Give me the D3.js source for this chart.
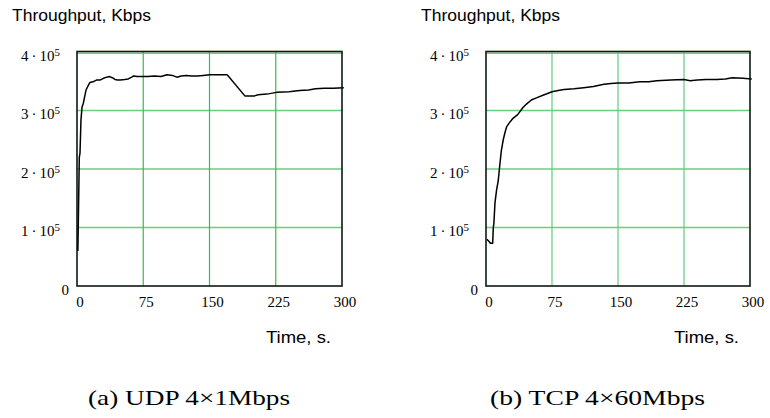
<!DOCTYPE html>
<html>
<head>
<meta charset="utf-8">
<script src="https://cdn.jsdelivr.net/npm/d3@7"></script>
<style>
  body { margin: 0; background: #fff; }
  svg { display: block; }
</style>
</head>
<body>
<script>
// Values
var xTicks = [0, 75, 150, 225, 300];
var yTicks = [0, 100000, 200000, 300000, 400000];

// (a) UDP 4x1Mbps
var udpTime = [1, 2.6, 3.4, 4.5, 5.7, 7.1, 10.2, 12.8, 14.7, 18, 22, 26, 30, 33.6, 37, 40, 43, 46, 49, 54, 58, 62, 64, 68, 73, 80, 88, 95, 102, 108, 113, 118, 124, 130, 136, 143, 150, 160, 170, 190, 201, 205, 215, 226, 240, 252, 262, 270, 280, 290, 302];
var udpThroughput = [60000, 220000, 227000, 284000, 306000, 312000, 335000, 343000, 348000, 349000, 352000, 352000, 355000, 357000, 358000, 356000, 353000, 352000, 352000, 353000, 354000, 357000, 359000, 358000, 358000, 358000, 359000, 358000, 361000, 360000, 357000, 359000, 360000, 359000, 359000, 360000, 361000, 361000, 361000, 325000, 325000, 327000, 328000, 331000, 332000, 334000, 335000, 337000, 338000, 338000, 339000];

// (b) TCP 4x60Mbps
var tcpTime = [1, 3.5, 5, 7.6, 8.3, 9, 10.2, 12, 13.9, 15.9, 17.5, 19.6, 21.5, 23.4, 27, 31, 36, 42, 46, 51.5, 58, 64.7, 70, 75, 82, 88.6, 100, 111, 122, 134, 142, 150, 162, 175, 185, 194, 210, 225, 232, 240, 250, 262, 272, 280, 292, 302];
var tcpThroughput = [80000, 76000, 73000, 73000, 100000, 108000, 142000, 164000, 180000, 210000, 232000, 250000, 262000, 272000, 280000, 287000, 293000, 305000, 311000, 318000, 322000, 326000, 329000, 332000, 334000, 336000, 337000, 339000, 341000, 345000, 346000, 347000, 347000, 349000, 349000, 351000, 352000, 353000, 351000, 352000, 353000, 353000, 354000, 356000, 355000, 354000];

var captions = ["(a) UDP 4\u00d71Mbps", "(b) TCP 4\u00d760Mbps"];
var yTitle = "Throughput, Kbps";
var xTitle = "Time, s.";

var width = 770;
var height = 418;

var svg = d3.select("body")
  .append("svg")
    .attr("width", width)
    .attr("height", height);

// layout of each panel
var panels = [
  { x0: 77,  x1: 342, time: udpTime, value: udpThroughput, caption: captions[0], capX: 88,  capW: 202, titleX: 12,  vGrid: "#2ec246" },
  { x0: 486, x1: 750, time: tcpTime, value: tcpThroughput, caption: captions[1], capX: 490, capW: 215, titleX: 421, vGrid: "#62cc80" }
];

var plotTop = 52, plotBottom = 286;
var hGrid = "#6acd84";
var frameColor = "#0e1a10";
var serif = "'Liberation Serif', 'Times New Roman', serif";
var sans = "'Liberation Sans', Arial, sans-serif";

panels.forEach(drawPanel);

function drawPanel(p) {
  var xScale = d3.scaleLinear()
                 .domain([xTicks[0], xTicks[xTicks.length - 1]])
                 .range([p.x0, p.x1]);
  var yScale = d3.scaleLinear()
                 .domain([yTicks[0], yTicks[yTicks.length - 1]])
                 .range([plotBottom, plotTop]);

  var g = svg.append("g");

  // horizontal grid (top one sits just under the frame)
  g.selectAll(".hgrid")
    .data(yTicks.filter(d => d > 0))
    .enter()
    .append("line")
      .attr("x1", xScale(0))
      .attr("x2", xScale(300))
      .attr("y1", d => yScale(d) + (d === 400000 ? 1.2 : 0))
      .attr("y2", d => yScale(d) + (d === 400000 ? 1.2 : 0))
      .attr("stroke", hGrid)
      .attr("stroke-width", 1.4);

  // vertical grid
  g.selectAll(".vgrid")
    .data(xTicks.filter(d => d > 0 && d < 300))
    .enter()
    .append("line")
      .attr("x1", d => xScale(d))
      .attr("x2", d => xScale(d))
      .attr("y1", yScale(0))
      .attr("y2", yScale(400000))
      .attr("stroke", p.vGrid)
      .attr("stroke-width", 1.2);

  // frame
  g.append("rect")
    .attr("x", xScale(0))
    .attr("y", yScale(400000) - 0.5)
    .attr("width", xScale(300) - xScale(0))
    .attr("height", yScale(0) - yScale(400000) + 0.5)
    .attr("fill", "none")
    .attr("stroke", frameColor)
    .attr("stroke-width", 1.6);

  // data line
  var line = d3.line()
               .x(d => xScale(d[0]))
               .y(d => yScale(d[1]));

  g.append("path")
    .datum(d3.zip(p.time, p.value))
    .attr("d", line)
    .attr("fill", "none")
    .attr("stroke", "#000")
    .attr("stroke-width", 1.5)
    .attr("stroke-linejoin", "round");

  // y axis labels, "n·10^5"
  var yAxis = d3.axisLeft(yScale)
                .tickValues(yTicks)
                .tickSize(0)
                .tickPadding(17);

  var ya = g.append("g")
    .attr("transform", "translate(" + xScale(0) + ",0)")
    .call(yAxis);
  ya.select(".domain").remove();
  ya.attr("font-family", serif).attr("font-size", 15);
  ya.selectAll("text")
    .attr("fill", "#000")
    .attr("dy", "0.54em")
    .each(function(d) {
      var t = d3.select(this);
      if (d === 0) {
        t.text("0").attr("x", -8);
      } else {
        t.text("");
        t.append("tspan").text((d / 100000) + "\u2009\u00b7\u200910");
        t.append("tspan").text("5").attr("font-size", "11px").attr("dy", "-0.45em");
      }
    });

  // x axis labels
  var xAxis = d3.axisBottom(xScale)
                .tickValues(xTicks)
                .tickSize(0)
                .tickPadding(10.5);

  var xa = g.append("g")
    .attr("transform", "translate(2.5," + yScale(0) + ")")
    .call(xAxis);
  xa.select(".domain").remove();
  xa.attr("font-family", serif).attr("font-size", 15);
  xa.selectAll("text").attr("fill", "#000");

  // titles
  svg.append("text")
    .attr("x", p.titleX)
    .attr("y", 20.5)
    .style("font-family", sans)
    .style("font-size", "16.5px")
    .attr("textLength", 139)
    .attr("lengthAdjust", "spacingAndGlyphs")
    .text(yTitle);

  svg.append("text")
    .attr("x", xScale(300) - 11)
    .attr("y", 342.5)
    .style("font-family", sans)
    .style("font-size", "16.5px")
    .style("text-anchor", "end")
    .attr("textLength", 65)
    .attr("lengthAdjust", "spacingAndGlyphs")
    .text(xTitle);

  svg.append("text")
    .attr("x", p.capX)
    .attr("y", 405)
    .style("font-family", serif)
    .style("font-size", "21px")
    .attr("textLength", p.capW)
    .attr("lengthAdjust", "spacingAndGlyphs")
    .text(p.caption);
}
</script>
</body>
</html>
